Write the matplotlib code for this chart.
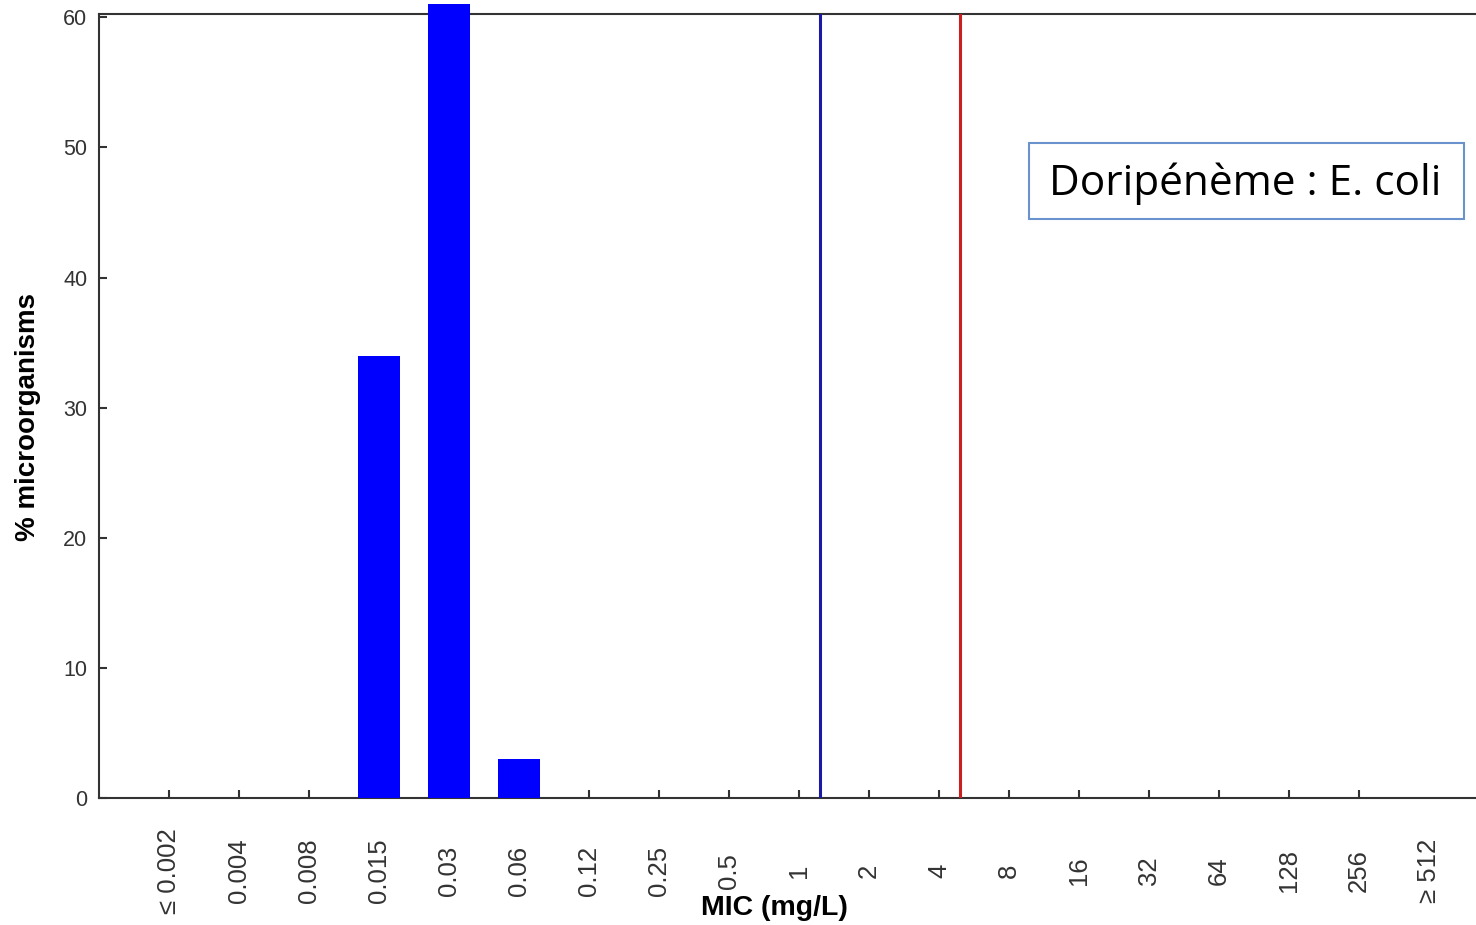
import matplotlib.pyplot as plt
from matplotlib.patches import Rectangle

# MIC distribution (% of organisms per dilution)
mic_labels = ["\u2264 0.002", "0.004", "0.008", "0.015", "0.03", "0.06", "0.12",
              "0.25", "0.5", "1", "2", "4", "8", "16", "32", "64", "128",
              "256", "\u2265 512"]
pct = [0, 0, 0, 34, 61, 3, 0, 0, 0, 0, 0, 0, 0, 0, 0, 0, 0, 0, 0]
# breakpoints drawn between categories (S <= 1, R > 4)
bp_sus = 10.3
bp_res = 12.3
title = "Doripénème : E. coli"

W, H = 1476, 925
fig = plt.figure(figsize=(W / 100, H / 100), dpi=100)
ax = fig.add_axes([99 / W, 1 - 798 / H, 1 - 99 / W, (798 - 14) / H])

pos = list(range(1, len(mic_labels) + 1))
ax.bar(pos, pct, width=0.6, color="#0000ff", clip_on=False, zorder=3)
ax.axvline(bp_sus, color="#1a1aa6", lw=2.2, zorder=4)
ax.axvline(bp_res, color="#cc2020", lw=2.2, zorder=4)

ax.set_xlim(0, (W - 99) / 70)
ax.set_ylim(0, 60.25)
ax.set_yticks(range(0, 61, 10))
ax.set_xticks(pos, mic_labels, rotation=90, va="center", ha="center",
              fontsize=18.5, color="#333333", family="Liberation Sans")
ax.xaxis.get_major_ticks()[-1].tick1line.set_visible(False)
for lab in ax.get_yticklabels():
    lab.set_family("Liberation Sans")
ax.tick_params(axis="x", direction="in", length=6, width=1.5,
               color="#333333", pad=52.5, top=False)
ax.tick_params(axis="y", direction="in", length=6, width=1.5,
               color="#333333", pad=8.5, labelsize=15.5, labelcolor="#333333",
               right=False)

for side in ["left", "bottom", "top"]:
    ax.spines[side].set_color("#333333")
    ax.spines[side].set_linewidth(1.5)
ax.spines["right"].set_visible(False)

ax.set_xlabel("MIC (mg/L)", fontsize=20.5, fontweight="bold",
              family="Liberation Sans", va="center")
ax.xaxis.set_label_coords((774 - 99) / (W - 99), -(908 - 798) / 784)
ax.set_ylabel("% microorganisms", fontsize=20, fontweight="bold",
              family="Liberation Sans", va="center", ha="center")
ax.yaxis.set_label_coords(-(99 - 28) / (W - 99), (798 - 417) / 784)

# annotation box
fig.add_artist(Rectangle((1029 / W, 1 - 219 / H), (1464 - 1029) / W,
                         (219 - 143) / H, transform=fig.transFigure,
                         facecolor="white", edgecolor="#6a92cc", lw=1.5))
fig.text(1245 / W, 1 - 184 / H, title, ha="center", va="center",
         fontsize=30.5, family="Open Sans")

fig.savefig("out.png", dpi=100, facecolor="white")
